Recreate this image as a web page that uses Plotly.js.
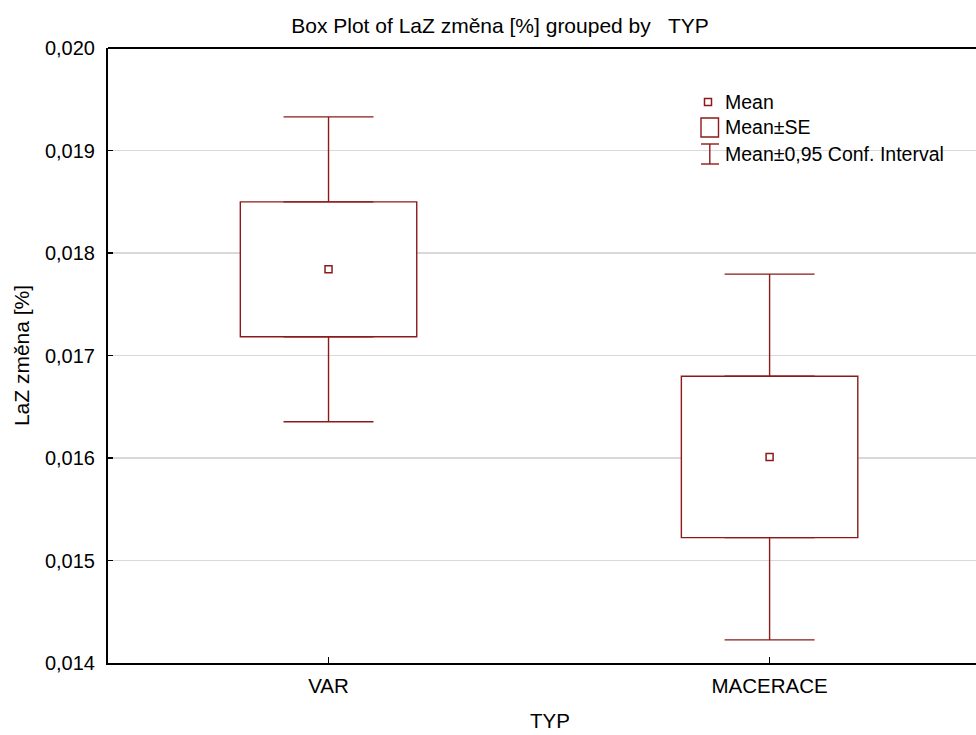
<!DOCTYPE html>
<html>
<head>
<meta charset="utf-8">
<script src="https://cdn.plot.ly/plotly-3.0.1.min.js"></script>
<style>html,body{margin:0;padding:0;background:#fff;}#chart{width:976px;height:735px;}</style>
</head>
<body>
<div id="chart"></div>
<script>
// Data
const categories = ["VAR", "MACERACE"];
const means = [0.017841, 0.016010];
const se = [0.000658, 0.000787];
const ci95 = [0.001487, 0.001784];
const yTickVals = [0.014, 0.015, 0.016, 0.017, 0.018, 0.019, 0.020];

const RED = "#8c1a1a";
const FONT = "Liberation Sans, Arial, sans-serif";

const boxBase = means.map((m, i) => m - se[i]);
const boxHeight = se.map(s => 2 * s);
const seTop = means.map((m, i) => m + se[i]);
const seBot = means.map((m, i) => m - se[i]);
const whiskerLen = ci95.map((c, i) => c - se[i]);
const zeros = means.map(() => 0);

const traces = [
  { // Mean ± SE box
    type: "bar", x: categories, y: boxHeight, base: boxBase, width: 0.4,
    marker: {color: "rgba(255,255,255,1)", line: {color: RED, width: 1.4}},
    hoverinfo: "skip", showlegend: false
  },
  { // upper CI whisker
    type: "scatter", mode: "markers", x: categories, y: seTop,
    marker: {size: 1, opacity: 0},
    error_y: {type: "data", symmetric: false, array: whiskerLen, arrayminus: zeros,
              color: RED, thickness: 1.4, width: 45},
    hoverinfo: "skip", showlegend: false
  },
  { // lower CI whisker
    type: "scatter", mode: "markers", x: categories, y: seBot,
    marker: {size: 1, opacity: 0},
    error_y: {type: "data", symmetric: false, array: zeros, arrayminus: whiskerLen,
              color: RED, thickness: 1.4, width: 45},
    hoverinfo: "skip", showlegend: false
  },
  { // mean
    type: "scatter", mode: "markers", x: categories, y: means,
    marker: {symbol: "square", size: 7, color: "#fff", line: {color: RED, width: 1.5}},
    hoverinfo: "skip", showlegend: false
  }
];

// legend geometry helpers (pixel -> paper)
const L = 108, T = 48, W = 868, H = 615;
const px = v => (v - L) / W;
const py = v => (T + H - v) / H;

const shapes = [
  // top border
  {type: "line", xref: "paper", yref: "paper", x0: 0, x1: 1, y0: 1, y1: 1,
   line: {color: "#000", width: 2}},
  // legend: mean marker
  {type: "rect", xref: "paper", yref: "paper", x0: px(704.5), x1: px(711.5), y0: py(98.5), y1: py(105.5),
   line: {color: RED, width: 1.5}, fillcolor: "#fff"},
  // legend: SE box
  {type: "rect", xref: "paper", yref: "paper", x0: px(701), x1: px(718.5), y0: py(118), y1: py(137),
   line: {color: RED, width: 1.4}, fillcolor: "#fff"},
  // legend: CI symbol
  {type: "line", xref: "paper", yref: "paper", x0: px(709.8), x1: px(709.8), y0: py(144), y1: py(164),
   line: {color: RED, width: 1.4}},
  {type: "line", xref: "paper", yref: "paper", x0: px(701), x1: px(719), y0: py(144), y1: py(144),
   line: {color: RED, width: 1.4}},
  {type: "line", xref: "paper", yref: "paper", x0: px(701), x1: px(719), y0: py(164), y1: py(164),
   line: {color: RED, width: 1.4}}
];

const legendTexts = ["Mean", "Mean±SE", "Mean±0,95 Conf. Interval"];
const legendY = [102, 127, 154];
const annotations = legendTexts.map((t, i) => ({
  text: t, xref: "paper", yref: "paper", x: px(723), y: py(legendY[i]),
  xanchor: "left", yanchor: "middle", showarrow: false,
  font: {family: FONT, size: 19.5, color: "#000"}
}));
// x-axis title
annotations.push({
  text: "TYP", xref: "paper", yref: "paper", x: px(550), y: py(720),
  xanchor: "center", yanchor: "middle", showarrow: false,
  font: {family: FONT, size: 20.5, color: "#000"}
});

const layout = {
  width: 976, height: 735,
  margin: {l: L, r: 0, t: T, b: 72, pad: 0},
  paper_bgcolor: "#fff", plot_bgcolor: "#fff",
  separators: ", ",
  font: {family: FONT, size: 20, color: "#000"},
  title: {text: "Box Plot of LaZ změna [%] grouped by   TYP", x: 500 / 976, xanchor: "center",
          y: 1 - 26 / 735, yanchor: "middle", font: {family: FONT, size: 21, color: "#000"}},
  showlegend: false,
  bargap: 0,
  xaxis: {
    type: "category", range: [-0.5, 1.468],
    showline: true, linecolor: "#000", linewidth: 2, mirror: false,
    ticks: "inside", ticklen: 6, tickwidth: 1.5, tickcolor: "#000",
    showgrid: false, zeroline: false, ticklabelstandoff: 3,
    tickfont: {family: FONT, size: 20.5}
  },
  yaxis: {
    range: [0.014, 0.020], tickvals: yTickVals, tickformat: ".3f",
    showline: true, linecolor: "#000", linewidth: 2,
    ticks: "inside", ticklen: 5, tickwidth: 1.5, tickcolor: "#000",
    showgrid: true, gridcolor: "#d9d9d9", gridwidth: 1.5, zeroline: false,
    ticklabelstandoff: 7,
    tickfont: {family: FONT, size: 20},
    title: {text: "LaZ změna [%]", standoff: 10, font: {family: FONT, size: 21}}
  },
  shapes: shapes,
  annotations: annotations
};

Plotly.newPlot("chart", traces, layout, {displayModeBar: false, staticPlot: true});
</script>
</body>
</html>
